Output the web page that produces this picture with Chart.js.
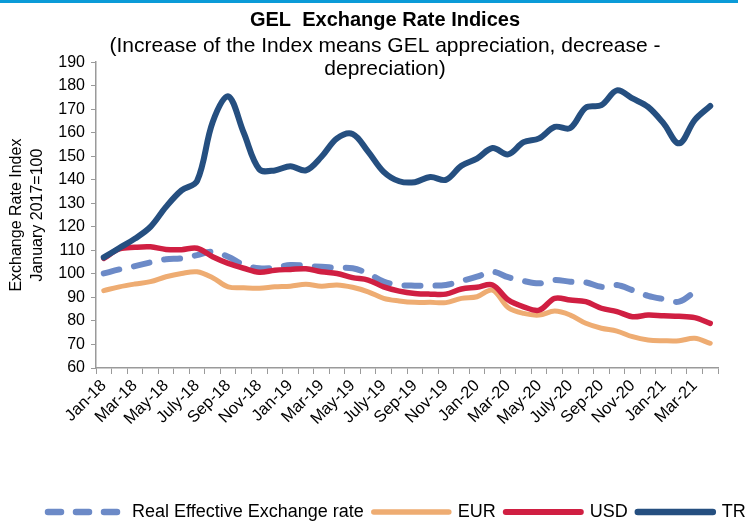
<!DOCTYPE html>
<html lang="en">
	<head>
		<meta charset="UTF-8" />
		<title>GEL Exchange Rate Indices</title>
		<script src="https://cdn.jsdelivr.net/npm/chart.js@4.4.1/dist/chart.umd.min.js"></script>
		<style>
			body { margin: 0; overflow: hidden; background: #fff; }
			#wrap { position: relative; width: 770px; height: 522px; }
			#topRule { position: absolute; left: 0; top: 0; width: 738px; height: 3px; background: #0b9bd8; }
		</style>
	</head>
	<body>
		<div id="wrap">
			<canvas id="gelIndices" width="770" height="522"></canvas>
			<div id="topRule"></div>
		</div>

		<script>
			const months = ["Jan", "Feb", "Mar", "Apr", "May", "June", "July", "Aug", "Sep", "Oct", "Nov", "Dec"];
			const years = ["18", "19", "20", "21"];
			const labels = [];
			years.forEach((y) => months.forEach((m) => labels.push(m + "-" + y)));
			labels.length = 40; // Jan-18 .. Apr-21

			const reer = [100.2, 101.9, 103.3, 104.9, 106.2, 106.6, 108, 109.4, 107.3, 103.8, 102.4, 102.6, 103.8, 103.4, 103, 102.6, 102.4, 100.2, 96.7, 95.3,
				95, 95, 95.3, 97, 98.8, 100.9, 98.6, 97, 96, 97.4, 96.7, 96.4, 94.5, 95.3, 93.1, 90.7, 89.3, 88.2, 92.4, null];
			const eur = [92.9, 94.5, 95.7, 96.7, 98.8, 100.2, 100.9, 98.4, 94.5, 94.1, 93.9, 94.5, 94.8, 95.6, 94.8, 95.3, 94.3, 92.4, 89.6, 88.5,
				87.9, 87.9, 87.8, 89.6, 90.3, 93.1, 85.7, 83.2, 82.5, 84.2, 82.5, 79, 76.9, 75.7, 73.3, 71.9, 71.6, 71.6, 72.6, 70.5];
			const usd = [106.6, 110.6, 111.3, 111.5, 110.4, 110.3, 110.9, 107.3, 104.5, 102.4, 100.7, 101.6, 101.9, 102.2, 100.9, 100.2, 98.4, 97.4, 94.5, 92.7,
				91.7, 91.4, 91.4, 93.6, 94.3, 95.3, 89, 86, 84.6, 89.6, 88.9, 88.2, 85.4, 84, 81.8, 82.5, 82.2, 82, 81.4, 79];
			const tryIdx = [107, 111, 115, 120, 128.5, 135.5, 139.5, 164.5, 175.5, 160, 144.5, 144, 145.8, 144, 149.8, 157.6, 159.5, 152, 143.4, 139.4,
				139, 141.2, 140, 146, 149, 153.5, 150.8, 156, 157.6, 162.5, 162, 170.7, 171.7, 178, 174.6, 171, 164, 155.5, 165.4, 171.4];

			Chart.defaults.font.family = "'Liberation Sans', Arial, sans-serif";
			Chart.defaults.color = "#000";

			// moves the legend row to where the original puts it
			const legendNudge = {
				id: "legendNudge",
				afterLayout(chart) {
					const lg = chart.legend;
					const start = (lg.left + 10 + lg.right - lg.lineWidths[0]) / 2;
					const dx = 48 - start;
					lg.left += dx;
					lg.right += dx;
					lg.top += 9;
					lg.bottom += 9;
				},
			};

			const line = (label, data, color, width, order, dash) => ({
				label,
				data,
				borderColor: color,
				backgroundColor: color,
				borderWidth: width,
				borderDash: dash || [],
				borderCapStyle: "round",
				borderJoinStyle: "round",
				pointRadius: 0,
				tension: 0.35,
				order,
			});

			new Chart(document.getElementById("gelIndices"), {
				type: "line",
				data: {
					labels,
					datasets: [
						line("Real Effective Exchange rate", reer, "#6c8ac7", 6, 3, [16, 15]),
						line("EUR", eur, "#eeac72", 5, 2),
						line("USD", usd, "#d01f42", 5.5, 1),
						line("TRY", tryIdx, "#254f80", 6, 0),
					],
				},
				options: {
					responsive: false,
					animation: false,
					layout: { padding: 0 },
					plugins: {
						title: {
							display: true,
							text: "GEL  Exchange Rate Indices",
							font: { size: 20, weight: "bold", lineHeight: 1.2 },
							padding: { top: 8, bottom: 0 },
						},
						subtitle: {
							display: true,
							text: ["(Increase of the Index means GEL appreciation, decrease -", "depreciation)"],
							font: { size: 21, lineHeight: 1.1 },
							color: "#000",
							padding: { top: 2.5, bottom: -18.5 },
						},
						legend: {
							position: "bottom",
							labels: {
								usePointStyle: true,
								pointStyle: "line",
								pointStyleWidth: 75,
								font: { size: 18 },
								padding: 10,
								sort: (a, b) => a.datasetIndex - b.datasetIndex,
								generateLabels: (chart) => {
									const items = Chart.defaults.plugins.legend.labels.generateLabels(chart);
									items.forEach((it) => {
										const ds = chart.data.datasets[it.datasetIndex];
										it.lineDash = ds.borderDash.length ? [13, 15] : [];
										it.lineCap = "round";
										it.lineWidth = ds.borderWidth + 0.5;
										it.strokeStyle = ds.borderColor;
									});
									return items;
								},
							},
						},
						tooltip: { enabled: false },
					},
					scales: {
						x: {
							offset: true,
							grid: { offset: true, drawOnChartArea: false, color: "#9a9a9a", tickLength: 6 },
							border: { color: "#9a9a9a", width: 1.5 },
							ticks: {
								autoSkip: false,
								minRotation: 45,
								maxRotation: 45,
								font: { size: 16.5 },
								padding: 2,
								callback: (v, i) => (i % 2 === 0 ? labels[i] : ""),
							},
							afterFit: (s) => { s.height = 116; },
						},
						y: {
							min: 60,
							max: 190,
							ticks: { stepSize: 10, font: { size: 16 }, padding: 6 },
							grid: { drawOnChartArea: false, color: "#9a9a9a", tickLength: 5 },
							border: { color: "#9a9a9a", width: 1.5 },
							title: {
								display: true,
								text: ["Exchange Rate Index", "January 2017=100"],
								font: { size: 16, lineHeight: 1.3 },
								padding: { top: 6.5, bottom: 0 },
							},
							afterFit: (s) => { s.width = 96; },
						},
						yRight: {
							position: "right",
							grid: { display: false },
							border: { display: false },
							ticks: { display: false },
							afterFit: (s) => { s.width = 52; },
						},
					},
				},
				plugins: [legendNudge],
			});
		</script>
	</body>
</html>
